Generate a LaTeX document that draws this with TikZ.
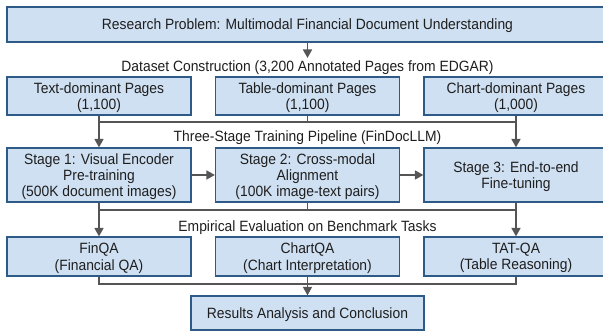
\documentclass[tikz,border=0pt]{standalone}
\usepackage{fontspec}
\setmainfont[FakeStretch=0.93]{Liberation Sans}
\usetikzlibrary{arrows.meta}
\definecolor{boxfill}{RGB}{207,224,242}
\definecolor{boxline}{RGB}{46,90,136}
\definecolor{conncol}{RGB}{85,85,85}
\definecolor{txt}{RGB}{30,30,30}
\tikzset{
  box/.style={draw=boxline, fill=boxfill, line width=1.2pt, inner sep=0pt, align=center,
    text=txt, font=\fontsize{14.9}{16.3}\selectfont, text depth=-2pt},
  colbox/.style={box, minimum width=184pt},
  lbl/.style={text=txt, font=\fontsize{14.9}{16.3}\selectfont, inner sep=0pt, anchor=base},
  conn/.style={draw=conncol, line width=1.5pt},
  arr/.style={conn, -{Triangle[width=9pt,length=8.5pt]}},
}
\begin{document}
\begin{tikzpicture}[x=1pt,y=-1pt]
\useasboundingbox (0,0) rectangle (603,331);
\node[box, minimum width=601pt, minimum height=35pt] (top) at (307.5,24.5) {Research Problem: Multimodal Financial Document Understanding};
\node[lbl] (ds) at (307.5,72) {Dataset Construction (3,200 Annotated Pages from EDGAR)};
\node[colbox, minimum height=38pt] (txtp) at (99,96) {Text-dominant Pages\\(1,100)};
\node[colbox, minimum height=38pt] (tabp) at (307.5,96) {Table-dominant Pages\\(1,100)};
\node[colbox, minimum height=38pt] (chp) at (516,96) {Chart-dominant Pages\\(1,000)};
\node[lbl] (tp) at (307.5,142) {Three-Stage Training Pipeline (FinDocLLM)};
\node[colbox, minimum height=54pt] (s1) at (99,175) {Stage 1: Visual Encoder\\Pre-training\\(500K document images)};
\node[colbox, minimum height=54pt] (s2) at (307.5,175) {Stage 2: Cross-modal\\Alignment\\(100K image-text pairs)};
\node[colbox, minimum height=54pt] (s3) at (516,175) {Stage 3: End-to-end\\Fine-tuning};
\node[lbl] (ev) at (307.5,232) {Empirical Evaluation on Benchmark Tasks};
\node[colbox, minimum height=39pt] (e1) at (99,256.5) {FinQA\\(Financial QA)};
\node[colbox, minimum height=39pt] (e2) at (307.5,256.5) {ChartQA\\(Chart Interpretation)};
\node[colbox, minimum height=39pt] (e3) at (516,256.5) {TAT-QA\\(Table Reasoning)};
\node[box, minimum width=233pt, minimum height=34pt] (res) at (307.5,313) {Results Analysis and Conclusion};
% connectors
\coordinate (dsin) at (top.south |- 0,58);
\draw[arr] (top.south) -- (dsin);
\coordinate (j1) at (txtp.south |- 0,122);
\coordinate (j2) at (tabp.south |- 0,122);
\coordinate (j3) at (chp.south |- 0,122);
\draw[conn] (txtp.south) -- (j1) -- (j3) -- (chp.south);
\draw[conn] (tabp.south) -- (j2);
\draw[arr] (j1) -- (s1.north);
\draw[arr] (j3) -- (s3.north);
\draw[arr] (s1.east) -- (s2.west);
\draw[arr] (s2.east) -- (s3.west);
\coordinate (k1) at (s1.south |- 0,210);
\coordinate (k2) at (s2.south |- 0,210);
\coordinate (k3) at (s3.south |- 0,210);
\draw[conn] (s1.south) -- (k1) -- (k3) -- (s3.south);
\draw[conn] (s2.south) -- (k2);
\draw[arr] (k1) -- (e1.north);
\draw[arr] (k3) -- (e3.north);
\coordinate (m1) at (e1.south |- 0,284);
\coordinate (m2) at (e2.south |- 0,284);
\coordinate (m3) at (e3.south |- 0,284);
\draw[conn] (e1.south) -- (m1) -- (m3) -- (e3.south);
\draw[arr] (e2.south) -- (res.north);
\end{tikzpicture}
\end{document}
